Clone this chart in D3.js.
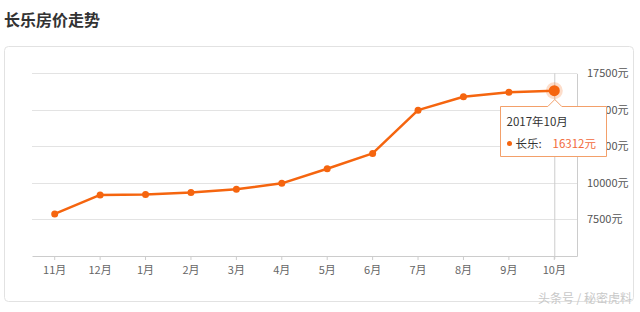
<!DOCTYPE html>
<html>
<head>
<meta charset="utf-8">
<script src="https://cdn.jsdelivr.net/npm/d3@7"></script>
<style>
  body { margin: 0; background: #fff; }
  text { font-family: "Noto Sans CJK SC", "Noto Sans", sans-serif; }
</style>
</head>
<body>
<svg id="chart" width="640" height="312"></svg>
<script>
var months = ["11月", "12月", "1月", "2月", "3月", "4月", "5月", "6月", "7月", "8月", "9月", "10月"];
var prices = [7880, 9180, 9200, 9340, 9560, 9970, 10970, 12020, 14980, 15900, 16200, 16312];
var yTicks = [7500, 10000, 12500, 15000, 17500];
var seriesName = "长乐";
var tipTitle = "2017年10月";

var svg = d3.select("#chart")
  , orange = "#f5650f"
  , plotLeft = 32
  , plotRight = 577
  , plotTop = 73.3
  , plotBottom = 256;

var x = d3.scaleBand().domain(months).range([plotLeft, plotRight]);
var y = d3.scaleLinear().domain([5000, 17500]).range([plotBottom, plotTop]);
var cx = function (d) { return x(d) + x.bandwidth() / 2; };

// title + frame
svg.append("text")
  .attr("x", 4).attr("y", 26)
  .attr("font-size", "16px").attr("font-weight", "bold")
  .attr("fill", "#333")
  .text("长乐房价走势");

svg.append("rect")
  .attr("x", 4.5).attr("y", 46.5)
  .attr("width", 629).attr("height", 255)
  .attr("rx", 4)
  .attr("fill", "none")
  .attr("stroke", "#e2e2e2");

// grid
svg.append("g").selectAll("line")
  .data(yTicks)
  .enter().append("line")
  .attr("x1", plotLeft).attr("x2", plotRight)
  .attr("y1", function (d) { return Math.round(y(d)) + 0.5; })
  .attr("y2", function (d) { return Math.round(y(d)) + 0.5; })
  .attr("stroke", "#e3e3e3");

// right y axis
var yAxis = svg.append("g")
  .attr("transform", "translate(" + plotRight + ",0)")
  .call(d3.axisRight(y).tickValues(yTicks).tickSize(0).tickPadding(10)
    .tickFormat(function (d) { return d + "元"; }));
yAxis.select(".domain").attr("stroke", "#ccc");
yAxis.selectAll("text")
  .attr("font-size", "11px").attr("fill", "#555")
  .attr("font-family", "\"Noto Sans CJK SC\", sans-serif");

// bottom x axis
var xAxis = svg.append("g")
  .attr("transform", "translate(0," + plotBottom + ")")
  .call(d3.axisBottom(x).tickSize(4).tickPadding(6).tickSizeOuter(0));
xAxis.select(".domain").attr("stroke", "#ccc");
xAxis.selectAll(".tick line").attr("stroke", "#ccc");
xAxis.selectAll("text")
  .attr("font-size", "11px").attr("fill", "#666")
  .attr("font-family", "\"Noto Sans CJK SC\", sans-serif");

// crosshair on last month
var last = months.length - 1;
svg.append("line")
  .attr("x1", cx(months[last]) + 0.5).attr("x2", cx(months[last]) + 0.5)
  .attr("y1", plotTop).attr("y2", plotBottom + 3)
  .attr("stroke", "#ccc");

// line + points
var line = d3.line()
  .x(function (d, i) { return cx(months[i]); })
  .y(function (d) { return y(d); });

svg.append("path")
  .datum(prices)
  .attr("d", line)
  .attr("fill", "none")
  .attr("stroke", orange)
  .attr("stroke-width", 2.5)
  .attr("stroke-linejoin", "round");

svg.append("g").selectAll("circle")
  .data(prices)
  .enter().append("circle")
  .attr("cx", function (d, i) { return cx(months[i]); })
  .attr("cy", function (d) { return y(d); })
  .attr("r", 3.5)
  .attr("fill", orange);

// highlighted point
svg.append("circle")
  .attr("cx", cx(months[last])).attr("cy", y(prices[last]))
  .attr("r", 8.5)
  .attr("fill", orange).attr("opacity", 0.22);
svg.append("circle")
  .attr("cx", cx(months[last])).attr("cy", y(prices[last]))
  .attr("r", 5.5)
  .attr("fill", orange);

// tooltip
var tx = 500.5, ty = 106.5, tw = 106, th = 50, ax = cx(months[last]) + 0.5;
var tip = svg.append("g");
tip.append("path")
  .attr("d", "M" + tx + "," + ty + "H" + (ax - 7) + "L" + ax + "," + (ty - 7) +
    "L" + (ax + 7) + "," + ty + "H" + (tx + tw) + "V" + (ty + th) + "H" + tx + "Z")
  .attr("fill", "#fff")
  .attr("stroke", "#f3a06a");
tip.append("text")
  .attr("x", tx + 6).attr("y", ty + 19)
  .attr("font-size", "11.5px").attr("fill", "#333")
  .text(tipTitle);
tip.append("circle")
  .attr("cx", tx + 9).attr("cy", ty + 37)
  .attr("r", 2.5)
  .attr("fill", orange);
tip.append("text")
  .attr("x", tx + 15).attr("y", ty + 41)
  .attr("font-size", "11.5px").attr("fill", "#333")
  .text(seriesName + ":");
tip.append("text")
  .attr("x", tx + 52).attr("y", ty + 41)
  .attr("font-size", "11.5px").attr("fill", "#f26b3c")
  .text(prices[last] + "元");

// watermark
svg.append("text")
  .attr("x", 632).attr("y", 303)
  .attr("text-anchor", "end")
  .attr("font-size", "12px").attr("fill", "#c8c8c8")
  .text("头条号 / 秘密虎料");
</script>
</body>
</html>
